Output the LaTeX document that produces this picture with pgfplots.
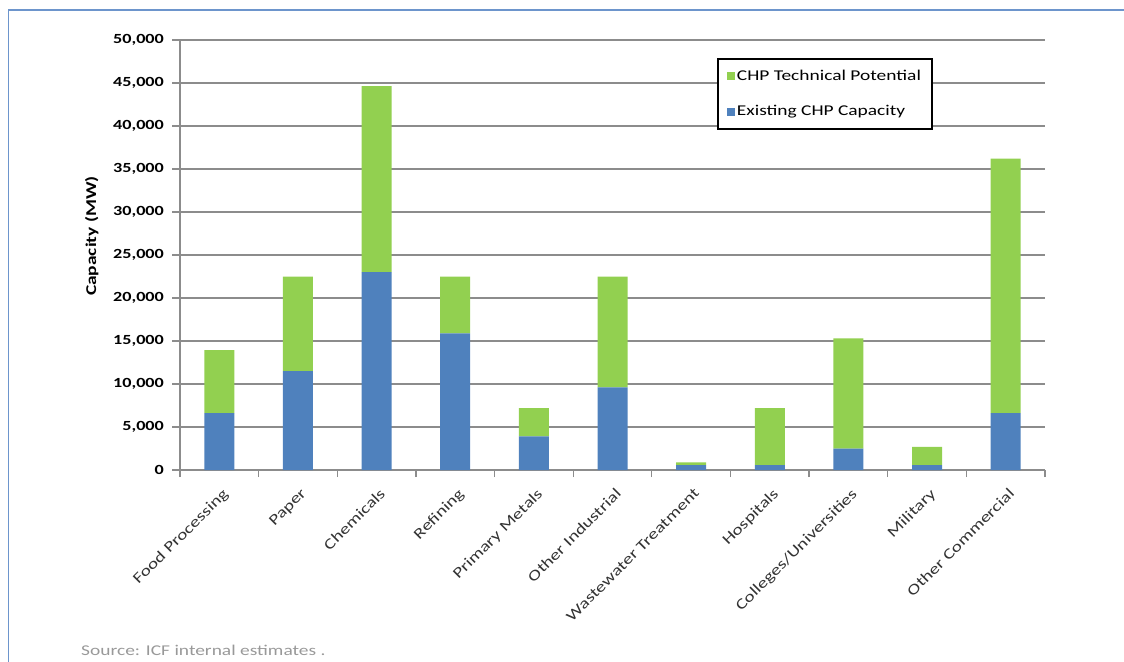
\documentclass[border=0pt]{standalone}
\usepackage{fontspec}
\setmainfont{Carlito}[FakeStretch=1.3]
\usepackage{pgfplots}
\pgfplotsset{compat=1.18}
\definecolor{barblue}{HTML}{4F81BD}
\definecolor{bargreen}{HTML}{92D050}
\definecolor{gridgray}{HTML}{8C8C8C}
\definecolor{frameblue}{HTML}{6D95CC}
\begin{document}
\fontsize{15}{17}\selectfont
\begin{tikzpicture}
\path[use as bounding box] (0,0) rectangle (1124bp,-662bp);
\draw[frameblue, line width=1.5bp] (8.5bp,-662bp) -- (8.5bp,-10bp) -- (1124bp,-10bp);
\begin{axis}[
  at={(180bp,-470bp)}, anchor=south west,
  scale only axis, width=865bp, height=430bp,
  ybar stacked, bar width=30bp,
  xmin=-0.5, xmax=10.5, ymin=0, ymax=50000,
  xtick={0,...,10},
  xticklabels={Food Processing, Paper, Chemicals, Refining, Primary Metals, Other Industrial, Wastewater Treatment, Hospitals, Colleges/Universities, Military, Other Commercial},
  minor xtick={-0.5,0.5,...,10.5},
  major x tick style={draw=none},
  ytick={0,5000,...,50000},
  scaled y ticks=false,
  major tick length=8bp, minor tick length=7bp, tick align=outside,
  ymajorgrids, grid style={gridgray, line width=1.5bp},
  axis x line*=bottom, axis y line*=left,
  axis line style={gridgray, line width=1.5bp, -},
  tick style={gridgray, line width=1.3bp},
  /pgf/number format/.cd, fixed, 1000 sep={,}, assume math mode=true, /pgfplots/.cd,
  yticklabel style={font=\fontsize{14}{16}\selectfont\bfseries, text=black, xshift=-3bp},
  xticklabel style={font=\fontsize{15}{17}\selectfont, text=black!80, rotate=45, anchor=north east, xshift=0bp, yshift=-3bp},
  ylabel={Capacity (MW)},
  ylabel style={font=\fontsize{15}{17}\selectfont\bfseries, at={(axis description cs:-0.102,0.544)}, anchor=center},
  legend style={at={(0.621,0.958)}, anchor=north west, draw=black, line width=1.5bp,
    font=\fontsize{15}{17}\selectfont, inner xsep=9bp, inner ysep=9bp, row sep=19bp,
    /tikz/every even column/.append style={column sep=3bp}},
  legend cell align=left, reverse legend,
]
\addplot[fill=barblue, draw=none, legend image code/.code={\fill[barblue] (0bp,-4bp) rectangle (8bp,4bp);}]
  coordinates {(0,6600) (1,11500) (2,23000) (3,15900) (4,3900) (5,9600) (6,580) (7,580) (8,2500) (9,580) (10,6600)};
\addplot[fill=bargreen, draw=none, legend image code/.code={\fill[bargreen] (0bp,-4bp) rectangle (8bp,4bp);}]
  coordinates {(0,7350) (1,11000) (2,21650) (3,6600) (4,3300) (5,12900) (6,320) (7,6620) (8,12800) (9,2120) (10,29600)};
\legend{Existing CHP Capacity, CHP Technical Potential}
\end{axis}
\node[anchor=west, text=black!40, font=\fontsize{15}{17}\selectfont] at (76bp,-650bp) {Source: ICF internal estimates .};
\end{tikzpicture}
\end{document}
